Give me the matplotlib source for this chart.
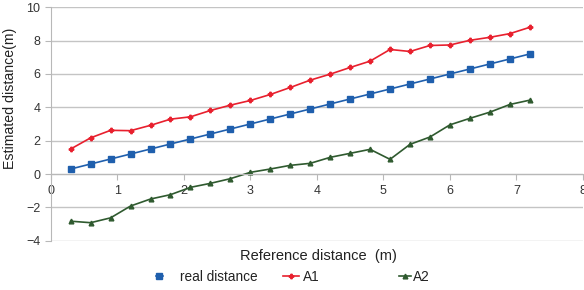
import matplotlib
matplotlib.use("Agg")
import matplotlib.pyplot as plt

x = [0.3, 0.6, 0.9, 1.2, 1.5, 1.8, 2.1, 2.4, 2.7, 3.0, 3.3, 3.6,
     3.9, 4.2, 4.5, 4.8, 5.1, 5.4, 5.7, 6.0, 6.3, 6.6, 6.9, 7.2]
real = [0.3, 0.6, 0.9, 1.2, 1.5, 1.8, 2.1, 2.4, 2.7, 3.0, 3.3, 3.6,
        3.9, 4.2, 4.5, 4.8, 5.1, 5.4, 5.7, 6.0, 6.3, 6.6, 6.9, 7.2]
a1 = [1.5, 2.17, 2.62, 2.6, 2.92, 3.29, 3.43, 3.81, 4.13, 4.41, 4.77, 5.19,
      5.63, 5.99, 6.39, 6.77, 7.47, 7.35, 7.71, 7.74, 8.02, 8.2, 8.42, 8.8]
a2 = [-2.83, -2.92, -2.63, -1.92, -1.5, -1.24, -0.8, -0.56, -0.28, 0.1, 0.3, 0.52,
      0.64, 1.0, 1.24, 1.48, 0.88, 1.78, 2.22, 2.95, 3.34, 3.71, 4.17, 4.43]
xticks = [0, 1, 2, 3, 4, 5, 6, 7, 8]
yticks = [-4, -2, 0, 2, 4, 6, 8, 10]

plt.rcParams['font.family'] = ['Liberation Sans', 'DejaVu Sans']

fig = plt.figure(figsize=(5.84, 2.90), dpi=100)
ax = fig.add_axes([50.7/584, 1-240.7/290, (583-50.7)/584, (240.7-7.3)/290])

grid_c = '#c4c4c4'
ax.set_xlim(0, 8)
ax.set_ylim(-4, 10)
ax.set_yticks(yticks)
ax.set_xticks(xticks)
ax.yaxis.grid(True, color=grid_c, lw=1.0)
ax.set_axisbelow(True)
for s in ['top', 'right']:
    ax.spines[s].set_visible(False)
ax.spines['bottom'].set_position(('data', 0))
ax.spines['bottom'].set_color('#b8b8b8')
ax.spines['left'].set_color('#b8b8b8')
ax.tick_params(axis='both', colors='#b8b8b8', labelcolor='#333333', labelsize=9, length=4)
ax.tick_params(axis='x', pad=4)

l1, = ax.plot(x, real, color='#1f5fad', lw=1.2, marker='s', ms=3.8, label='real distance')
l2, = ax.plot(x, a1, color='#e8202e', lw=1.2, marker='P', ms=3.2, label='A1')
l3, = ax.plot(x, a2, color='#2f5a2f', lw=1.2, marker='^', ms=3.4, label='A2')

fig.text(10/584, 1-98/290, 'Estimated distance(m)', rotation=90, ha='center', va='center',
         fontsize=10.2, color='#222222')
fig.text(318/584, 1-256/290, 'Reference distance  (m)', ha='center', va='center',
         fontsize=10.5, color='#222222')

# (handle, left x px, handle length em, text pad em)
for h, xs, hl, tp in [(l1, 156, 0.5, 1.3), (l2, 283, 1.2, 0.3), (l3, 399, 0.9, 0.1)]:
    fig.legend(handles=[h], loc='center left', bbox_to_anchor=(xs/584, 1-277/290),
               frameon=False, fontsize=9.8, handlelength=hl, handletextpad=tp,
               borderpad=0, borderaxespad=0, labelcolor='#222222')

fig.savefig('out.png', dpi=100)
